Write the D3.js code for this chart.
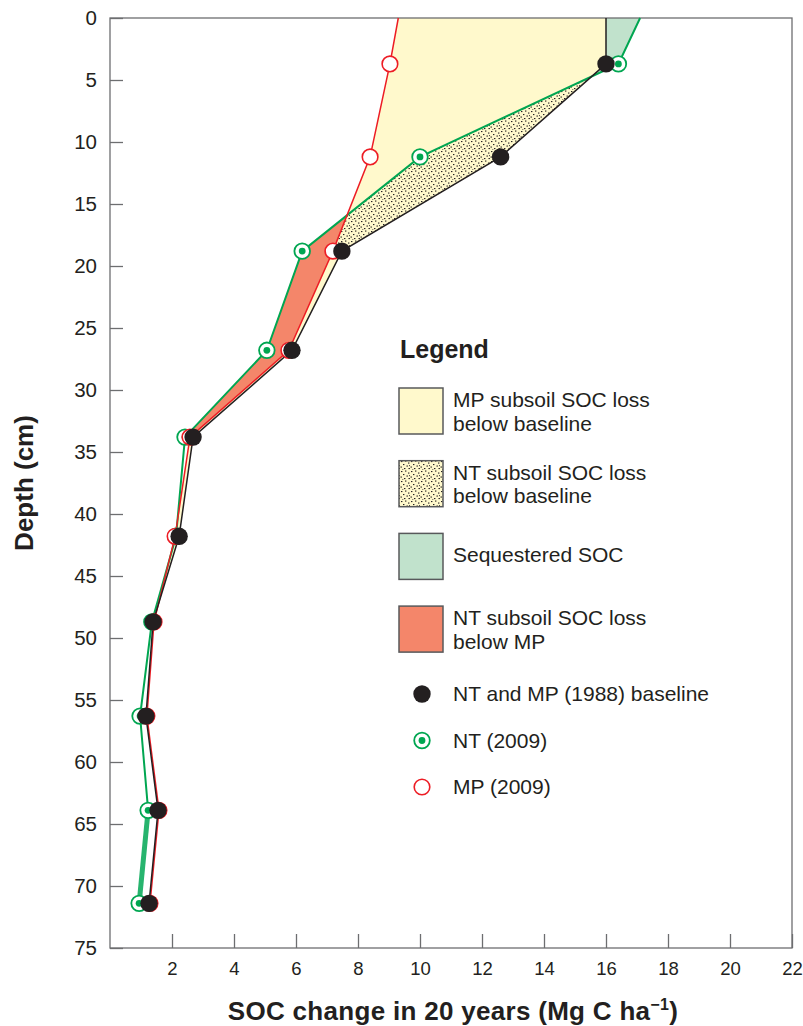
<!DOCTYPE html>
<html>
<head>
<meta charset="utf-8">
<script src="https://cdn.jsdelivr.net/npm/d3@7"></script>
<style>
  body { margin: 0; background: #fff; }
  text { font-family: "Liberation Sans", Arial, Helvetica, sans-serif; fill: #231f20; }
</style>
</head>
<body>
<svg id="chart" width="803" height="1026"></svg>
<script>
// ---- data ----
const depths   = [0, 3.7, 11.2, 18.8, 26.8, 33.8, 41.8, 48.7, 56.3, 63.9, 71.4];
const baseline = [16.0, 16.0, 12.6, 7.48, 5.87, 2.68, 2.23, 1.39, 1.16, 1.55, 1.26];
const ntSOC    = [17.1, 16.4, 10.0, 6.2, 5.06, 2.42, 2.13, 1.35, 0.97, 1.23, 0.94];
const mpSOC    = [9.3, 9.03, 8.39, 7.19, 5.77, 2.58, 2.1, 1.42, 1.19, 1.58, 1.29];
const xTicks   = [2, 4, 6, 8, 10, 12, 14, 16, 18, 20, 22];
const yTicks   = [0, 5, 10, 15, 20, 25, 30, 35, 40, 45, 50, 55, 60, 65, 70, 75];
const areaLegend = [
  ["MP subsoil SOC loss", "below baseline"],
  ["NT subsoil SOC loss", "below baseline"],
  ["Sequestered SOC"],
  ["NT subsoil SOC loss", "below MP"]
];
const pointLegend = ["NT and MP (1988) baseline", "NT (2009)", "MP (2009)"];

// ---- layout ----
const svg = d3.select("#chart");
const L = 110, T = 18, R = 792, B = 948;
const x = d3.scaleLinear().domain([0, 22]).range([L, R]);
const y = d3.scaleLinear().domain([0, 75]).range([T, B]);

const C = {
  yellow: "#fff9cc", green: "#c1e2cc", orange: "#f4866a",
  gline: "#00a651", rline: "#ed1c24", bline: "#231f20", axis: "#6d6e70"
};

const rows = depths.map((d, i) => ({ d, b: baseline[i], n: ntSOC[i], m: mpSOC[i] }));
const defs = svg.append("defs");

// dotted pattern
const pat = defs.append("pattern").attr("id", "dots").attr("patternUnits", "userSpaceOnUse")
  .attr("width", 10).attr("height", 10);
pat.append("rect").attr("width", 10).attr("height", 10).attr("fill", C.yellow);
const dotPos = [[1,1],[5,0.5],[8,2.5],[3,4],[6.5,5.5],[0.5,6.5],[4,8],[8.5,8],[2,9.5],[9.2,5]];
dotPos.forEach(p => pat.append("rect").attr("x", p[0]).attr("y", p[1]).attr("width", 1.4).attr("height", 1.1).attr("fill", "#231f20"));

const areaBetween = (f0, f1) => d3.area().y(r => y(r.d)).x0(f0).x1(f1)(rows);
const FAR_L = 0, FAR_R = 803;
function clip(id, f0, f1) {
  defs.append("clipPath").attr("id", id).append("path").attr("d", areaBetween(f0, f1));
}
clip("leftMP",  () => FAR_L, r => x(r.m));
clip("rightMP", r => x(r.m), () => FAR_R);
clip("leftBL",  () => FAR_L, r => x(r.b));
clip("rightBL", r => x(r.b), () => FAR_R);
function band(id, depthIdx) {
  defs.append("clipPath").attr("id", id).append("rect")
    .attr("x", 0).attr("y", 0).attr("width", 803).attr("height", y(depths[depthIdx]));
}
band("band", 3);
band("band2", 5);

// yellow: MP loss below baseline
svg.append("g").attr("clip-path", "url(#leftBL)")
  .append("path").attr("d", areaBetween(r => x(r.m), r => x(r.b))).attr("fill", C.yellow);
// dotted: NT loss below baseline (where NT above MP)
svg.append("g").attr("clip-path", "url(#band)")
  .append("g").attr("clip-path", "url(#rightMP)")
  .append("g").attr("clip-path", "url(#leftBL)")
  .append("path").attr("d", areaBetween(r => x(r.n), r => x(r.b))).attr("fill", "url(#dots)");
// orange: NT loss below MP
svg.append("g").attr("clip-path", "url(#band2)")
  .append("g").attr("clip-path", "url(#leftMP)")
  .append("path").attr("d", areaBetween(r => x(r.n), r => x(r.m))).attr("fill", C.orange);
// green: sequestered
svg.append("g").attr("clip-path", "url(#rightBL)")
  .append("path").attr("d", areaBetween(r => x(r.b), r => x(r.n))).attr("fill", C.green);

// ---- frame & axes ----
svg.append("rect").attr("x", L).attr("y", T).attr("width", R - L).attr("height", B - T)
  .attr("fill", "none").attr("stroke", C.axis).attr("stroke-width", 1.3);

const yAxis = svg.append("g").attr("transform", `translate(${L},0)`)
  .call(d3.axisLeft(y).tickValues(yTicks).tickSize(-13).tickPadding(13).tickFormat(d3.format("d")));
const xAxis = svg.append("g").attr("transform", `translate(0,${B})`)
  .call(d3.axisBottom(x).tickValues(xTicks).tickSize(-14).tickPadding(14).tickFormat(d3.format("d")));
[yAxis, xAxis].forEach(g => {
  g.select(".domain").remove();
  g.selectAll(".tick line").attr("stroke", C.axis).attr("stroke-width", 1.3);
  g.selectAll(".tick text").attr("fill", "#231f20").style("font-family", '"Liberation Sans", Arial, sans-serif');
});
yAxis.selectAll(".tick text").style("font-size", "20.5px");
xAxis.selectAll(".tick text").style("font-size", "18.5px");

// ---- lines ----
const line = f => d3.line().x(f).y(r => y(r.d));
const upper = rows.slice(0, 10), last = rows.slice(9);
svg.append("path").attr("d", line(r => x(r.n))(upper)).attr("fill", "none").attr("stroke", C.gline).attr("stroke-width", 2);
svg.append("path").attr("d", line(r => x(r.n))(last)).attr("fill", "none").attr("stroke", "#27b46e").attr("stroke-width", 5);
svg.append("path").attr("d", line(r => x(r.m))(rows)).attr("fill", "none").attr("stroke", C.rline).attr("stroke-width", 1.5);
svg.append("path").attr("d", line(r => x(r.b))(rows)).attr("fill", "none").attr("stroke", C.bline).attr("stroke-width", 1.5);

// ---- markers ----
const pts = rows.slice(1);
function ntMarker(g, cx, cy) {
  g.append("circle").attr("cx", cx).attr("cy", cy).attr("r", 7.8).attr("fill", "#fff").attr("stroke", C.gline).attr("stroke-width", 1.8);
  g.append("circle").attr("cx", cx).attr("cy", cy).attr("r", 3.4).attr("fill", C.gline);
}
function mpMarker(g, cx, cy) {
  g.append("circle").attr("cx", cx).attr("cy", cy).attr("r", 7.8).attr("fill", "#fff").attr("stroke", C.rline).attr("stroke-width", 1.6);
}
function blMarker(g, cx, cy) {
  g.append("circle").attr("cx", cx).attr("cy", cy).attr("r", 8.7).attr("fill", C.bline);
}
const mg = svg.append("g");
pts.forEach(r => ntMarker(mg, x(r.n), y(r.d)));
pts.forEach(r => mpMarker(mg, x(r.m), y(r.d)));
pts.forEach(r => blMarker(mg, x(r.b), y(r.d)));

// ---- legend ----
const lg = svg.append("g");
lg.append("text").attr("x", 400).attr("y", 358).style("font-size", "25px").style("font-weight", "bold").text("Legend");
const fills = [C.yellow, "url(#dots)", C.green, C.orange];
areaLegend.forEach((lines, i) => {
  const top = 388 + i * 72.7;
  lg.append("rect").attr("x", 399).attr("y", top).attr("width", 44).attr("height", 46)
    .attr("fill", fills[i]).attr("stroke", "#58595b").attr("stroke-width", 1.5);
  lines.forEach((t, j) => {
    const by = lines.length === 1 ? top + 29 : top + 19 + j * 23.5;
    lg.append("text").attr("x", 453).attr("y", by).style("font-size", "21px").text(t);
  });
});
const markerFns = [blMarker, ntMarker, mpMarker];
pointLegend.forEach((t, i) => {
  const cy = 694 + i * 46.5;
  markerFns[i](lg, 422, cy);
  lg.append("text").attr("x", 453).attr("y", cy + 7).style("font-size", "21px").text(t);
});

// ---- axis titles ----
const xt = svg.append("text").attr("x", 453).attr("y", 1020).attr("text-anchor", "middle")
  .style("font-size", "26px").style("font-weight", "bold").style("letter-spacing", "0.3px");
xt.append("tspan").text("SOC change in 20 years (Mg C ha");
xt.append("tspan").attr("dy", -10).style("font-size", "16px").text("\u22121");
xt.append("tspan").attr("dy", 10).text(")");

svg.append("text").attr("transform", "translate(33,483) rotate(-90)").attr("text-anchor", "middle")
  .style("font-size", "26px").style("font-weight", "bold").text("Depth (cm)");
</script>
</body>
</html>
